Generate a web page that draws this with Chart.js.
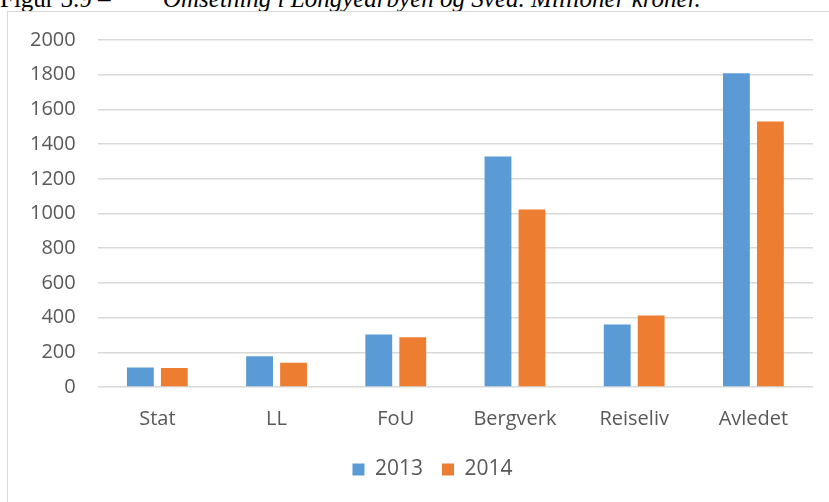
<!DOCTYPE html>
<html>
<head>
<meta charset="utf-8">
<script src="https://cdn.jsdelivr.net/npm/chart.js@4.4.1/dist/chart.umd.min.js"></script>
<style>
  html, body { margin: 0; padding: 0; background: #ffffff; overflow: hidden; }
  body { width: 829px; height: 502px; position: relative; }
  #caption { position: absolute; left: 0; top: -13px; white-space: nowrap;
    font-family: 'Liberation Serif', serif; font-size: 25px; line-height: 24px; color: #000; }
  #caption .num { position: absolute; left: 0; top: 0; }
  #caption .txt { position: absolute; left: 163px; top: 0; font-style: italic; }
  #frame { position: absolute; left: 7px; top: 11px; width: 900px; height: 600px;
    border: 1px solid #d9d9d9; }
  #wrap { position: absolute; left: 8px; top: 12px; width: 821px; height: 490px; }
</style>
</head>
<body>
<div id="caption"><span class="num">Figur 3.9 –</span><span class="txt">Omsetning i Longyearbyen og Svea. Millioner kroner.</span></div>
<div id="frame"></div>
<div id="wrap"><canvas id="chart"></canvas></div>
<script>
const categories = ['Stat', 'LL', 'FoU', 'Bergverk', 'Reiseliv', 'Avledet'];
const seriesNames = ['2013', '2014'];
const values2013 = [112, 177, 302, 1329, 360, 1808];
const values2014 = [110, 140, 287, 1023, 412, 1530];
const yMin = 0;
const yMax = 2000;
const yStep = 200;

const textColor = '#595959';
const gridColor = '#d9d9d9';
const fontFamily = "'Open Sans', sans-serif";

// excel puts the legend a bit right of the canvas centre
const legendShift = {
  id: 'legendShift',
  afterLayout(chart) {
    chart.legend.left += 22;
    chart.legend.right += 22;
  },
};

new Chart(document.getElementById('chart'), {
  type: 'bar',
  data: {
    labels: categories,
    datasets: [
      {
        label: seriesNames[0],
        data: values2013,
        backgroundColor: '#5b9bd5',
        categoryPercentage: 0.57,
        barPercentage: 0.79,
      },
      {
        label: seriesNames[1],
        data: values2014,
        backgroundColor: '#ed7d31',
        categoryPercentage: 0.57,
        barPercentage: 0.79,
      },
    ],
  },
  options: {
    responsive: true,
    maintainAspectRatio: false,
    animation: false,
    layout: { padding: { left: 0, right: 16, top: 28, bottom: 12 } },
    plugins: {
      tooltip: { enabled: false },
      legend: {
        position: 'bottom',
        labels: {
          color: textColor,
          font: { family: fontFamily, size: 21 },
          boxWidth: 12,
          boxHeight: 12,
          padding: 19,
        },
      },
    },
    scales: {
      x: {
        grid: { display: false, drawTicks: false },
        border: { display: false },
        ticks: {
          color: textColor,
          font: { family: fontFamily, size: 20 },
          padding: 20,
        },
        // chart.js counts tick padding twice, take some back so the legend sits higher
        afterFit: (scale) => { scale.height -= 11; },
      },
      y: {
        min: yMin,
        max: yMax,
        grid: { color: gridColor, lineWidth: 1.5, drawTicks: false },
        border: { display: false },
        ticks: {
          stepSize: yStep,
          color: textColor,
          font: { family: fontFamily, size: 20 },
          padding: 22,
          callback: (value) => String(value),
        },
        // the tick padding also pushes the top down, let layout.padding decide
        afterFit: (scale) => { scale.paddingTop = 0; },
      },
    },
  },
  plugins: [legendShift],
});
</script>
</body>
</html>
